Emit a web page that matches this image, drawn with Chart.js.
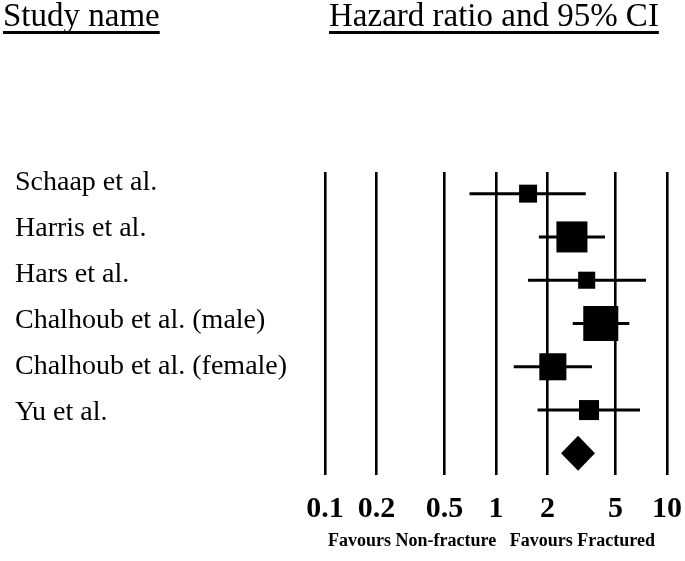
<!DOCTYPE html>
<html>
<head>
<meta charset="utf-8">
<script src="https://cdn.jsdelivr.net/npm/chart.js@4/dist/chart.umd.min.js"></script>
<style>
  html, body { margin: 0; padding: 0; background: #fff; }
  #wrap { width: 685px; height: 561px; }
</style>
</head>
<body>
<div id="wrap"><canvas id="forest" width="685" height="561"></canvas></div>
<script>
// study rows
var studies = ['Schaap et al.', 'Harris et al.', 'Hars et al.', 'Chalhoub et al. (male)', 'Chalhoub et al. (female)', 'Yu et al.']
var hazardRatio = [1.54, 2.78, 3.39, 4.10, 2.15, 3.50]
var lowerCI = [0.70, 1.78, 1.54, 2.81, 1.27, 1.75]
var upperCI = [3.35, 4.34, 7.54, 6.02, 3.64, 6.95]
// relative weight (%) -> box area
var weights = [8.2, 24.5, 7.4, 31.2, 18.6, 10.2]
// pooled estimate [hr, low, high]
var pooled = [3.02, 2.40, 3.79]

var tickValues = [0.1, 0.2, 0.5, 1, 2, 5, 10]
var axisCaption = 'Favours Non-fracture   Favours Fractured  '

var serif = '"Liberation Serif", "Times New Roman", serif'

var datasets = []
for (var i = 0; i < studies.length; i++) {
  datasets.push({
    type: 'line',
    data: [{ x: lowerCI[i], y: i }, { x: upperCI[i], y: i }],
    borderColor: '#000',
    borderWidth: 3,
    pointRadius: 0,
    yAxisID: 'y'
  })
}
datasets.push({
  type: 'scatter',
  data: hazardRatio.map(function (v, i) { return { x: v, y: i } }),
  pointStyle: 'rect',
  backgroundColor: '#000',
  borderWidth: 0,
  pointRadius: weights.map(function (w) { return Math.sqrt(w) * 6.27 / 1.414 }),
  yAxisID: 'y'
})

// pooled diamond + column headers
const extras = {
  id: 'extras',
  afterDatasetsDraw(chart) {
    var ctx = chart.ctx
    var xs = chart.scales.x
    var ys = chart.scales.y
    var cy = ys.getPixelForValue(studies.length)
    ctx.save()
    ctx.fillStyle = '#000'
    ctx.beginPath()
    ctx.moveTo(xs.getPixelForValue(pooled[1]), cy)
    ctx.lineTo(xs.getPixelForValue(pooled[0]), cy - 17.5)
    ctx.lineTo(xs.getPixelForValue(pooled[2]), cy)
    ctx.lineTo(xs.getPixelForValue(pooled[0]), cy + 17.5)
    ctx.closePath()
    ctx.fill()
    ctx.restore()
  },
  afterDraw(chart) {
    var ctx = chart.ctx
    ctx.save()
    ctx.fillStyle = '#000'
    ctx.strokeStyle = '#000'
    ctx.font = '33px ' + serif
    ctx.textBaseline = 'alphabetic'
    var heads = [['Study name', 3], ['Hazard ratio and 95% CI', 329]]
    heads.forEach(function (h) {
      ctx.fillText(h[0], h[1], 26)
      var w = ctx.measureText(h[0]).width
      ctx.lineWidth = 3
      ctx.beginPath()
      ctx.moveTo(h[1], 32.5)
      ctx.lineTo(h[1] + w, 32.5)
      ctx.stroke()
    })
    ctx.restore()
  }
}

new Chart(document.getElementById('forest'), {
  type: 'scatter',
  data: { datasets: datasets },
  options: {
    responsive: false,
    animation: false,
    layout: { autoPadding: false, padding: { left: 15, top: 172, right: 18, bottom: 5 } },
    plugins: { legend: { display: false }, tooltip: { enabled: false } },
    scales: {
      x: {
        type: 'logarithmic',
        min: 0.1,
        max: 10,
        afterBuildTicks: function (scale) {
          scale.ticks = tickValues.map(function (v) { return { value: v } })
        },
        afterFit: function (scale) {
          scale.height = 81
          scale.paddingLeft = 0
          scale.paddingRight = 0
        },
        ticks: {
          autoSkip: false,
          maxRotation: 0,
          padding: 16,
          color: '#000',
          font: { family: serif, size: 30, weight: 'bold' },
          callback: function (v) { return String(v) }
        },
        grid: { color: '#000', lineWidth: 2.6, drawTicks: false },
        border: { display: false },
        title: {
          display: true,
          text: axisCaption,
          color: '#000',
          font: { family: serif, size: 18, weight: 'bold' },
          padding: { top: 4, bottom: 4 }
        }
      },
      y: {
        type: 'linear',
        display: false,
        reverse: true,
        min: -0.5,
        max: 6.5
      },
      yLabels: {
        type: 'linear',
        position: 'left',
        reverse: true,
        min: -0.22,
        max: 6.34,
        afterBuildTicks: function (scale) {
          scale.ticks = studies.map(function (s, i) { return { value: i } })
        },
        afterFit: function (scale) { scale.width = 310 },
        ticks: {
          autoSkip: false,
          crossAlign: 'far',
          color: '#000',
          font: { family: serif, size: 28 },
          callback: function (v) { return studies[v] }
        },
        grid: { display: false },
        border: { display: false }
      }
    }
  },
  plugins: [extras]
})
</script>
</body>
</html>
